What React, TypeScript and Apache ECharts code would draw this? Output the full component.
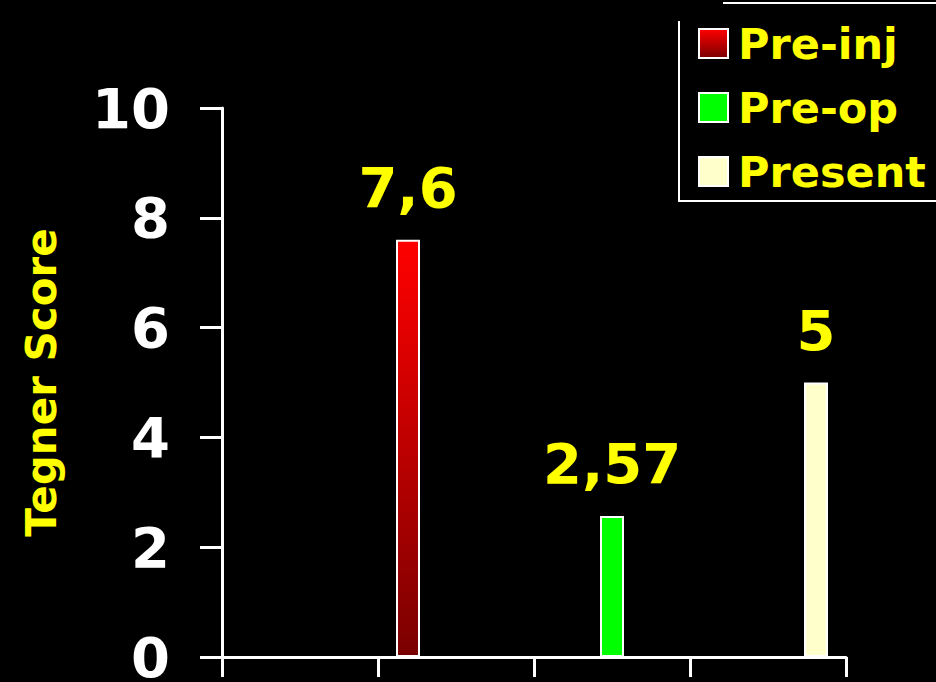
import React, { useEffect, useRef } from "react";
import * as echarts from "echarts";

const categories = ["", "", "", ""];
const seriesNames = ["Pre-inj", "Pre-op", "Present"];
const preInj = ["-", 7.6, "-", "-"];
const preOp = ["-", "-", 2.57, "-"];
const present = ["-", "-", "-", 5];
const yTicks = { min: 0, max: 10, interval: 2 };

const fmt = (v: number) => String(v).replace(".", ",");

export default function App() {
  const ref = useRef<HTMLDivElement>(null);
  useEffect(() => {
    if (!ref.current) return;
    const chart = echarts.init(ref.current, null, { renderer: "svg" });
    const font = "'DejaVu Sans', Verdana, sans-serif";
    const label = {
      show: true,
      position: "top",
      distance: 24,
      color: "#ffff00",
      fontFamily: font,
      fontWeight: "bold",
      fontSize: 56,
      formatter: (p: any) => fmt(p.value),
    };
    const redGrad = new echarts.graphic.LinearGradient(0, 0, 0, 1, [
      { offset: 0, color: "#ff0000" },
      { offset: 1, color: "#7a0000" },
    ]);
    chart.setOption({
      animation: false,
      backgroundColor: "#000000",
      grid: {
        left: 222,
        right: 90,
        top: 108,
        bottom: 25,
        containLabel: false,
        outerBoundsMode: "none",
      },
      legend: {
        orient: "vertical",
        left: 693,
        top: 17,
        itemWidth: 29,
        itemHeight: 29,
        itemGap: 21,
        icon: "rect",
        data: seriesNames,
        textStyle: {
          color: "#ffff00",
          fontFamily: font,
          fontWeight: "bold",
          fontSize: 43,
          padding: [0, 0, 0, 5],
        },
      },
      xAxis: {
        type: "category",
        data: categories,
        boundaryGap: true,
        axisLine: { lineStyle: { color: "#ffffff", width: 3 } },
        axisTick: { show: true, length: 20, lineStyle: { color: "#ffffff", width: 3 } },
        axisLabel: { show: false },
      },
      yAxis: {
        type: "value",
        min: yTicks.min,
        max: yTicks.max,
        interval: yTicks.interval,
        name: "Tegner Score",
        nameLocation: "middle",
        nameGap: 160,
        nameTextStyle: {
          color: "#ffff00",
          fontFamily: font,
          fontWeight: "bold",
          fontSize: 42,
        },
        splitLine: { show: false },
        axisLine: { show: true, lineStyle: { color: "#ffffff", width: 3 } },
        axisTick: { show: true, length: 22, lineStyle: { color: "#ffffff", width: 3 } },
        axisLabel: {
          color: "#ffffff",
          fontFamily: font,
          fontWeight: "bold",
          fontSize: 56,
          margin: 52,
        },
      },
      series: [
        {
          name: seriesNames[0],
          type: "bar",
          data: preInj,
          barWidth: 24,
          barGap: "100%",
          itemStyle: { color: redGrad, borderColor: "#ffffff", borderWidth: 2 },
          label,
        },
        {
          name: seriesNames[1],
          type: "bar",
          data: preOp,
          barWidth: 24,
          barGap: "100%",
          itemStyle: { color: "#00ff00", borderColor: "#ffffff", borderWidth: 2 },
          label,
        },
        {
          name: seriesNames[2],
          type: "bar",
          data: present,
          barWidth: 24,
          barGap: "100%",
          itemStyle: { color: "#ffffcc", borderColor: "#ffffff", borderWidth: 2 },
          label,
        },
      ],
      graphic: [
        {
          type: "line",
          shape: { x1: 723, y1: 3, x2: 936, y2: 3 },
          style: { stroke: "#ffffff", lineWidth: 2 },
        },
        {
          type: "polyline",
          shape: { points: [[679, 21], [679, 201], [936, 201]] },
          style: { stroke: "#ffffff", lineWidth: 2, fill: null },
        },
      ],
    });
    return () => chart.dispose();
  }, []);
  return <div ref={ref} style={{ width: 936, height: 682, position: "fixed", left: 0, top: 0 }} />;
}
